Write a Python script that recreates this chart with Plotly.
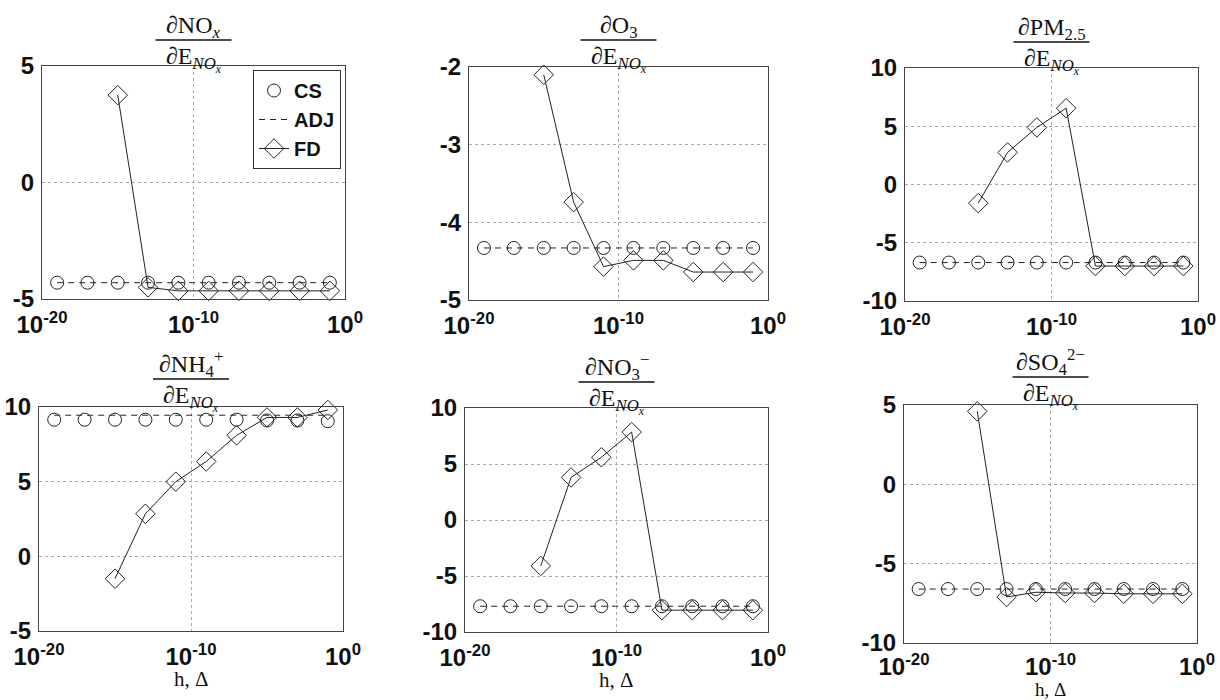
import plotly.graph_objects as go

W, H = 1220, 700

# ---- data ----
h = [1e-19, 1e-17, 1e-15, 1e-13, 1e-11, 1e-9, 1e-7, 1e-5, 1e-3, 1e-1]

cs_nox = [-4.3, -4.3, -4.3, -4.3, -4.3, -4.3, -4.3, -4.3, -4.3, -4.3]
adj_nox = [-4.3, -4.3, -4.3, -4.3, -4.3, -4.3, -4.3, -4.3, -4.3, -4.3]
fd_nox = [None, None, 3.75, -4.5, -4.65, -4.65, -4.65, -4.65, -4.65, -4.65]

cs_o3 = [-4.33, -4.33, -4.33, -4.33, -4.33, -4.33, -4.33, -4.33, -4.33, -4.33]
adj_o3 = [-4.33, -4.33, -4.33, -4.33, -4.33, -4.33, -4.33, -4.33, -4.33, -4.33]
fd_o3 = [None, None, -2.1, -3.74, -4.57, -4.49, -4.49, -4.64, -4.64, -4.64]

cs_pm = [-6.7, -6.7, -6.7, -6.7, -6.7, -6.7, -6.7, -6.7, -6.7, -6.7]
adj_pm = [-6.7, -6.7, -6.7, -6.7, -6.7, -6.7, -6.7, -6.7, -6.7, -6.7]
fd_pm = [None, None, -1.6, 2.75, 4.9, 6.55, -7.0, -7.0, -7.0, -7.0]

cs_nh4 = [9.15, 9.15, 9.15, 9.15, 9.15, 9.15, 9.15, 9.1, 9.1, 9.05]
adj_nh4 = [9.45, 9.45, 9.45, 9.45, 9.45, 9.45, 9.45, 9.45, 9.45, 9.45]
fd_nh4 = [None, None, -1.5, 2.85, 5.0, 6.35, 8.1, 9.3, 9.3, 9.8]

cs_no3 = [-7.7, -7.7, -7.7, -7.7, -7.7, -7.7, -7.7, -7.7, -7.7, -7.7]
adj_no3 = [-7.7, -7.7, -7.7, -7.7, -7.7, -7.7, -7.7, -7.7, -7.7, -7.7]
fd_no3 = [None, None, -4.1, 3.8, 5.6, 7.85, -8.05, -8.05, -8.05, -8.05]

cs_so4 = [-6.6, -6.6, -6.6, -6.6, -6.6, -6.6, -6.6, -6.6, -6.6, -6.6]
adj_so4 = [-6.6, -6.6, -6.6, -6.6, -6.6, -6.6, -6.6, -6.6, -6.6, -6.6]
fd_so4 = [None, None, 4.6, -7.1, -6.8, -6.85, -6.85, -6.9, -6.9, -6.9]

numerators = ["∂NO<sub><i>x</i></sub>", "∂O<sub>3</sub>", "∂PM<sub>2.5</sub>",
              "∂NH<sub>4</sub><sup>+</sup>", "∂NO<sub>3</sub><sup>−</sup>", "∂SO<sub>4</sub><sup>2−</sup>"]
denominator = "∂E<sub><i>NO<sub>x</sub></i></sub>"

y_ranges = [[-5, 5], [-5, -2], [-10, 10], [-5, 10], [-10, 10], [-10, 5]]
y_ticks = [[-5, 0, 5], [-5, -4, -3, -2], [-10, -5, 0, 5, 10], [-5, 0, 5, 10], [-10, -5, 0, 5, 10], [-10, -5, 0, 5]]
x_tickvals = [1e-20, 1e-10, 1]
x_ticktext = ["10<sup>-20</sup>", "10<sup>-10</sup>", "10<sup>0</sup>"]
x_label = "h, Δ"
legend_names = ["CS", "ADJ", "FD"]

series = [(cs_nox, adj_nox, fd_nox), (cs_o3, adj_o3, fd_o3), (cs_pm, adj_pm, fd_pm),
          (cs_nh4, adj_nh4, fd_nh4), (cs_no3, adj_no3, fd_no3), (cs_so4, adj_so4, fd_so4)]

# ---- layout (pixel boxes: left, right, top, bottom) ----
boxes = [(42, 345, 66, 299), (469, 768, 67, 300), (905, 1198, 68, 301),
         (39, 343, 407, 631), (465, 768, 408, 632), (904, 1197, 405, 643)]
bar_y = [40, 40, 42, 379, 382, 377]
label_bottom = [0, 0, 0, 692, 693, 701]
label_size = [0, 0, 0, 21, 21, 19]
x_standoff = [4, 4, 4, 4, 4, 2]


def px(x):
    return x / W


def py(y):
    return 1 - y / H


tick_font = dict(family="Liberation Sans, Arial", size=24, color="#111", weight="bold")
serif = "Liberation Serif, Times New Roman, serif"

fig = go.Figure()
layout = dict()
annotations = []
shapes = []

for i, ((cs, adj, fd), box) in enumerate(zip(series, boxes)):
    n = i + 1
    xa = "x" if n == 1 else f"x{n}"
    ya = "y" if n == 1 else f"y{n}"
    show = (n == 1)
    fig.add_trace(go.Scatter(x=h, y=adj, mode="lines", name=legend_names[1],
                             line=dict(color="#222", width=1, dash="6px,5px"),
                             xaxis=xa, yaxis=ya, showlegend=show, legendrank=2))
    fig.add_trace(go.Scatter(x=h, y=cs, mode="markers", name=legend_names[0],
                             marker=dict(symbol="circle-open", size=13, color="#222", line=dict(width=1)),
                             xaxis=xa, yaxis=ya, showlegend=show, legendrank=1, cliponaxis=False))
    fig.add_trace(go.Scatter(x=h, y=fd, mode="lines+markers", name=legend_names[2],
                             line=dict(color="#222", width=1),
                             marker=dict(symbol="diamond-open", size=15, color="#222", line=dict(width=1)),
                             xaxis=xa, yaxis=ya, showlegend=show, legendrank=3, cliponaxis=False,
                             connectgaps=False))
    l, r, t, b = box
    axcommon = dict(showline=True, linecolor="#444", linewidth=1, mirror=True,
                    showgrid=True, gridcolor="#aaa", griddash="dot", gridwidth=1,
                    zeroline=False, ticks="", tickfont=tick_font, automargin=False)
    layout["xaxis" if n == 1 else f"xaxis{n}"] = dict(
        axcommon, type="log", range=[-20, 0], domain=[px(l), px(r)], anchor=ya,
        tickmode="array", tickvals=x_tickvals, ticktext=x_ticktext, ticklabelstandoff=x_standoff[i])
    layout["yaxis" if n == 1 else f"yaxis{n}"] = dict(
        axcommon, range=y_ranges[i], domain=[py(b), py(t)], anchor=xa,
        tickmode="array", tickvals=y_ticks[i], ticktext=[str(v) for v in y_ticks[i]],
        ticklabelstandoff=2)

    cx = (l + r) / 2
    by = bar_y[i]
    shapes.append(dict(type="line", xref="paper", yref="paper",
                       x0=px(cx - 38), x1=px(cx + 38), y0=py(by), y1=py(by),
                       line=dict(color="#111", width=1.3)))
    annotations.append(dict(text=numerators[i], xref="paper", yref="paper", x=px(cx), y=py(by + 4),
                            xanchor="center", yanchor="bottom", showarrow=False,
                            font=dict(family=serif, size=24, color="#111")))
    annotations.append(dict(text=denominator, xref="paper", yref="paper", x=px(cx), y=py(by + 1),
                            xanchor="center", yanchor="top", showarrow=False,
                            font=dict(family=serif, size=24, color="#111")))
    if n >= 4:
        annotations.append(dict(text=x_label, xref="paper", yref="paper", x=px(cx), y=py(label_bottom[i]),
                                xanchor="center", yanchor="bottom", showarrow=False, borderpad=0,
                                font=dict(family=serif, size=label_size[i], color="#111")))

fig.update_layout(**layout)
fig.update_layout(
    width=W, height=H, margin=dict(l=0, r=0, t=0, b=0, autoexpand=False),
    paper_bgcolor="white", plot_bgcolor="white",
    annotations=annotations, shapes=shapes,
    legend=dict(x=px(341), xanchor="right", y=py(70), yanchor="top",
                bordercolor="#333", borderwidth=1, bgcolor="white",
                font=dict(family="Liberation Sans, Arial", size=20, color="#111", weight="bold"),
                itemwidth=30, tracegroupgap=0),
)

fig.write_html("out.html")
